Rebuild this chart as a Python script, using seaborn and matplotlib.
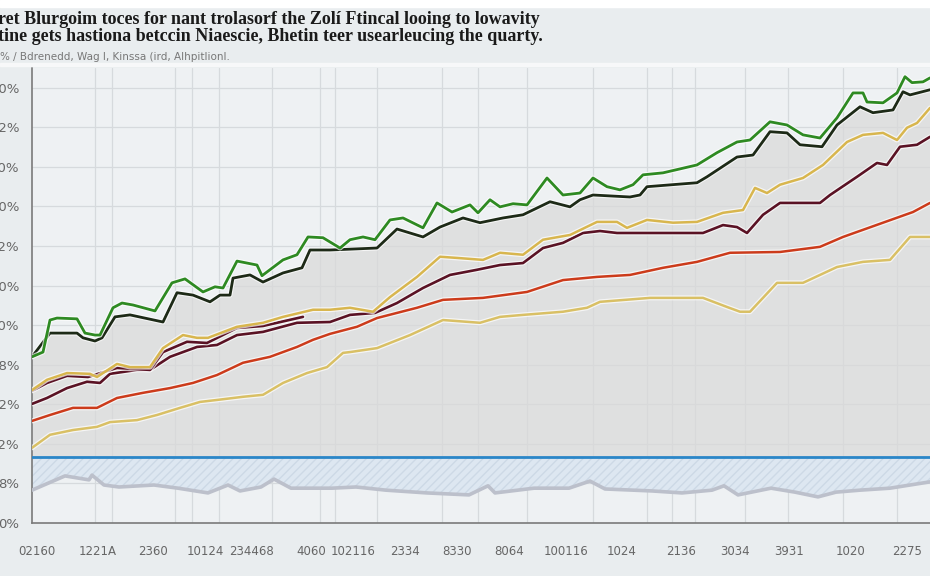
import matplotlib
matplotlib.use("Agg")
import matplotlib.pyplot as plt
import matplotlib.patheffects as pe
import seaborn as sns

# ---- data (x = period index, y = percent) ----
green_x = [0, 11, 18, 25, 45, 53, 63, 68, 81, 90, 101, 123, 140, 153, 171, 183, 191, 205, 225, 230,
           251, 265, 276, 291, 308, 318, 331, 343, 358, 371, 391, 405, 420, 438, 446, 458, 468, 481, 495, 515,
           531, 548, 561, 575, 588, 601, 611, 631, 665, 685, 705, 718, 738, 755, 771, 788, 805, 821, 831, 835,
           851, 865, 873, 880, 891, 898]
green_y = [42.0, 43.2, 51.3, 51.8, 51.6, 48.0, 47.5, 47.5, 54.4, 55.6, 55.1, 53.6, 60.7, 61.7, 58.4, 59.7, 59.4, 66.2, 65.2, 62.5,
           66.5, 67.8, 72.3, 72.1, 69.5, 71.6, 72.3, 71.6, 76.6, 77.1, 74.6, 80.9, 78.6, 80.4, 78.4, 81.7, 79.9, 80.7, 80.4, 87.2,
           82.9, 83.4, 87.2, 85.0, 84.2, 85.5, 88.0, 88.5, 90.5, 93.6, 96.3, 96.8, 101.4, 100.6, 98.1, 97.3, 102.4, 108.7, 108.7, 106.4,
           106.2, 108.7, 112.8, 111.3, 111.5, 112.5]

dark_x = [0, 18, 45, 51, 63, 70, 83, 98, 131, 145, 161, 178, 188, 198, 201, 218, 231, 251, 270, 278,
          298, 345, 365, 391, 408, 431, 448, 471, 491, 518, 538, 548, 561, 598, 608, 615, 665, 675, 705, 721,
          738, 755, 768, 790, 805, 828, 841, 861, 871, 878, 898]
dark_y = [42.0, 48.0, 48.0, 46.8, 46.0, 46.8, 52.1, 52.6, 50.8, 58.2, 57.6, 55.9, 57.6, 57.6, 61.9, 62.7, 60.9, 63.2, 64.5, 69.0,
          69.0, 69.5, 74.3, 72.3, 74.8, 77.1, 75.9, 77.1, 77.9, 81.2, 79.9, 81.7, 82.9, 82.4, 82.9, 85.0, 86.0, 87.5, 92.5, 93.0,
          98.9, 98.6, 95.6, 95.1, 100.6, 105.2, 103.7, 104.4, 109.0, 108.2, 109.5]

tan_hi_x = [0, 15, 35, 58, 65, 85, 98, 118, 131, 151, 165, 176, 205, 231, 251, 281, 298, 318, 341, 358,
            385, 408, 425, 451, 468, 491, 511, 538, 565, 585, 595, 615, 641, 665, 691, 711, 723, 735, 748, 771,
            791, 815, 831, 851, 865, 875, 885, 898]
tan_hi_y = [33.6, 36.2, 37.9, 37.7, 36.9, 40.2, 39.4, 39.4, 44.2, 47.5, 46.8, 46.8, 49.6, 50.6, 52.1, 53.9, 53.9, 54.4, 53.4, 57.1,
            62.2, 67.3, 67.0, 66.5, 68.3, 67.8, 71.6, 72.8, 76.1, 76.1, 74.6, 76.6, 75.9, 76.1, 78.4, 79.1, 84.7, 83.4, 85.5, 87.2,
            90.5, 96.3, 98.1, 98.6, 96.8, 99.9, 101.1, 104.9]

maroon_a_x = [0, 15, 35, 56, 85, 118, 131, 155, 175, 205, 231, 271]
maroon_a_y = [33.4, 35.4, 37.2, 36.9, 39.2, 38.7, 43.2, 45.8, 45.5, 49.3, 49.8, 52.1]

maroon_x = [0, 15, 35, 55, 68, 78, 105, 118, 138, 165, 185, 205, 231, 265, 298, 318, 343, 365, 391, 418,
            445, 468, 491, 511, 531, 551, 568, 585, 618, 671, 691, 705, 715, 731, 748, 788, 798, 825, 845, 855,
            868, 885, 898]
maroon_y = [30.1, 31.6, 34.1, 35.7, 35.4, 37.7, 38.7, 38.7, 42.0, 44.5, 45.0, 47.5, 48.3, 50.6, 50.8, 52.6, 53.1, 55.6, 59.4, 62.7,
            64.0, 65.2, 65.7, 69.5, 70.8, 73.3, 73.8, 73.3, 73.3, 73.3, 75.3, 74.8, 73.3, 77.9, 80.9, 80.9, 82.9, 87.5, 91.0, 90.5,
            95.1, 95.6, 97.6]

red_x = [0, 18, 41, 65, 85, 111, 138, 161, 185, 211, 238, 265, 281, 298, 325, 345, 385, 411, 451, 495,
         531, 565, 598, 631, 665, 698, 748, 788, 811, 851, 881, 898]
red_y = [25.8, 27.3, 29.1, 29.1, 31.6, 32.9, 34.1, 35.4, 37.4, 40.5, 42.0, 44.5, 46.3, 47.8, 49.6, 51.8, 54.4, 56.4, 56.9, 58.4,
         61.4, 62.2, 62.7, 64.5, 66.0, 68.3, 68.5, 69.8, 72.3, 75.9, 78.6, 80.9]

tan_lo_x = [0, 18, 41, 65, 78, 105, 125, 148, 168, 185, 211, 231, 251, 275, 295, 311, 318, 345, 378, 411,
            448, 468, 491, 531, 555, 568, 618, 671, 695, 708, 718, 745, 771, 805, 831, 858, 878, 898]
tan_lo_y = [19.0, 22.3, 23.5, 24.3, 25.5, 26.0, 27.3, 29.1, 30.6, 31.1, 31.9, 32.4, 35.4, 37.9, 39.4, 43.0, 43.2, 44.2, 47.5, 51.3,
            50.6, 52.1, 52.6, 53.4, 54.4, 55.9, 56.9, 56.9, 54.6, 53.4, 53.4, 60.7, 60.7, 64.7, 66.0, 66.5, 72.3, 72.3]

blue_level = 16.7

gray_x = [0, 33, 57, 60, 72, 87, 122, 146, 176, 196, 208, 229, 242, 259, 300, 324, 354, 395, 437, 456,
          463, 502, 537, 558, 573, 620, 650, 680, 692, 706, 739, 763, 786, 804, 828, 858, 898]
gray_y = [8.3, 11.9, 10.9, 12.1, 9.6, 9.1, 9.6, 8.8, 7.6, 9.6, 8.1, 9.1, 11.1, 8.8, 8.8, 9.1, 8.3, 7.6, 7.1, 9.4,
          7.6, 8.8, 8.8, 10.6, 8.6, 8.1, 7.6, 8.3, 9.4, 7.1, 8.8, 7.8, 6.6, 7.8, 8.3, 8.8, 10.4]

x_label_pos = [5, 66, 121, 173, 220, 279, 321, 373, 425, 477, 534, 590, 649, 703, 757, 819, 875]
x_labels = ["02160", "1221A", "2360", "10124", "234468", "4060", "102116", "2334", "8330",
            "8064", "100116", "1024", "2136", "3034", "3931", "1020", "2275"]
x_tick_marks = [7, 215, 324, 649, 767, 874]
y_ticks = [0, 10, 20, 30, 40, 50, 60, 70, 80, 90, 100, 110]
y_labels = ["0%", "8%", "12%", "22%", "28%", "30%", "40%", "52%", "60%", "70%", "82%", "90%"]
v_grid = [63, 80, 143, 160, 187, 240, 288, 303, 345, 410, 446, 495, 561, 615, 640, 663, 713, 756, 811, 865]

title = ("ret Blurgoim toces for nant trolasorf the Zolí Ftincal looing to lowavity\n"
         "tine gets hastiona betccin Niaescie, Bhetin teer usearleucing the quarty.")
subtitle = "% / Bdrenedd, Wag I, Kinssa (ird, Alhpitlionl."

# ---- figure ----
sns.set_style("white")
fig = plt.figure(figsize=(9.3, 5.76), dpi=100, facecolor="#e9edef")
ax = fig.add_axes([32 / 930, 53 / 576, 898 / 930, 455 / 576])
ax.set_facecolor("#eef1f3")

for gx in v_grid:
    ax.axvline(gx, color="#d6dadd", lw=0.9, zorder=0)
for gy in y_ticks[1:]:
    ax.axhline(gy, color="#d6dadd", lw=0.9, zorder=0)

# shaded areas
ax.fill_between(dark_x, blue_level, dark_y, color="#d9d9d9", alpha=0.7, lw=0, zorder=1)
ax.fill_between(gray_x, gray_y, blue_level, facecolor="#dde7f1", edgecolor="#cdd9e6",
                hatch="////", lw=0, zorder=1)

halo = [pe.Stroke(linewidth=3.6, foreground="white", alpha=0.7), pe.Normal()]
series = [
    (gray_x, gray_y, "#bcc0cb", 2.6),
    (tan_lo_x, tan_lo_y, "#d9c065", 1.8),
    (red_x, red_y, "#cc3b1b", 1.8),
    (maroon_x, maroon_y, "#5a1224", 1.9),
    (maroon_a_x, maroon_a_y, "#5a1224", 1.9),
    (tan_hi_x, tan_hi_y, "#d8b64e", 1.8),
    (dark_x, dark_y, "#1d2a17", 2.0),
    (green_x, green_y, "#2e8a22", 2.0),
]
for xs, ys, col, lw in series:
    sns.lineplot(x=xs, y=ys, ax=ax, color=col, linewidth=lw, zorder=3,
                 path_effects=halo if col != "#bcc0cb" else None)

ax.axhline(blue_level, color="#2a86c8", lw=2.0, zorder=4)

ax.set_xlim(0, 898)
ax.set_ylim(0, 115)

ax.set_xticks(x_label_pos)
ax.set_xticklabels(x_labels, fontsize=8.5, color="#666666",
                   family=["Liberation Sans Narrow", "DejaVu Sans"])
ax.set_xticks(x_tick_marks, minor=True)
ax.tick_params(axis="x", which="major", length=0, pad=16)
ax.tick_params(axis="x", which="minor", length=5, width=1.2, color="#555555", direction="out")

ax.set_yticks(y_ticks)
ax.set_yticklabels(y_labels, fontsize=9.5, color="#666666")
ax.tick_params(axis="y", length=6, width=1.0, color="#777777", pad=3)

for side in ["top", "right"]:
    ax.spines[side].set_visible(False)
for side in ["left", "bottom"]:
    ax.spines[side].set_color("#7a7a7a")
    ax.spines[side].set_linewidth(1.2)
ax.set_xlabel("")
ax.set_ylabel("")

# header
fig.patches.append(plt.Rectangle((0, 1 - 7 / 576), 1, 7 / 576, transform=fig.transFigure,
                                 color="white", zorder=0))
fig.patches.append(plt.Rectangle((0, 1 - 66 / 576), 1, 3 / 576, transform=fig.transFigure,
                                 color="#f7f8f9", zorder=0))
fig.text(-0.002, 1 - 11 / 576, title, ha="left", va="top", fontsize=13, fontweight="bold",
         color="#1a1a1a", family=["Liberation Serif", "DejaVu Serif"], linespacing=1.0)
fig.text(0.0, 1 - 52 / 576, subtitle, ha="left", va="top", fontsize=7.5, color="#777777",
         family=["Liberation Sans Narrow", "DejaVu Sans"])

fig.savefig("out.png", dpi=100, facecolor=fig.get_facecolor())
